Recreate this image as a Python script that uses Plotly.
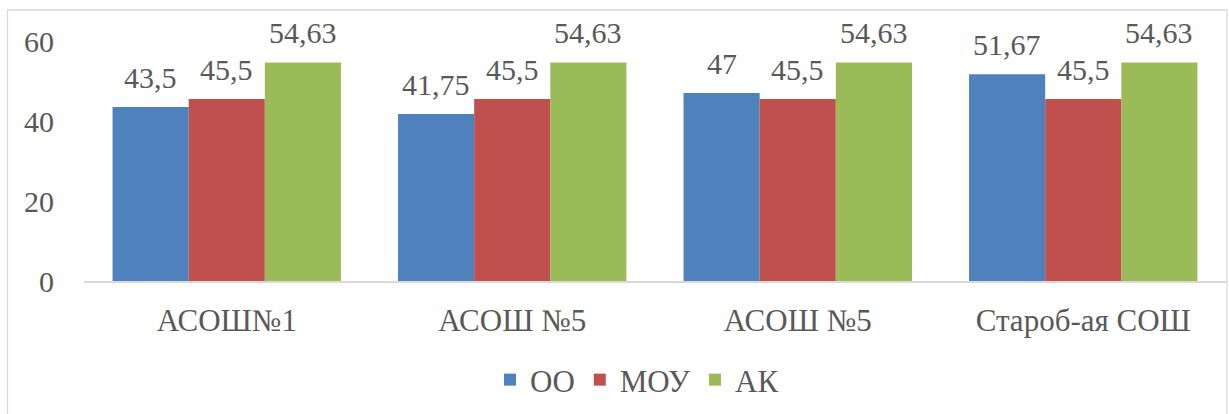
import plotly.graph_objects as go

categories = ["АСОШ№1", "АСОШ №5", "АСОШ №5", "Староб-ая СОШ"]
series_names = ["ОО", "МОУ", "АК"]
oo_values = [43.5, 41.75, 47, 51.67]
mou_values = [45.5, 45.5, 45.5, 45.5]
ak_values = [54.63, 54.63, 54.63, 54.63]
colors = ["#4F81BD", "#C0504D", "#9BBB59"]
y_ticks = [0, 20, 40, 60]

FONT = "Times New Roman, Liberation Serif, serif"
TXT = "#595959"

all_values = [oo_values, mou_values, ak_values]
xpos = list(range(len(categories)))

def fmt(v):
    return f"{v:g}".replace(".", ",")

fig = go.Figure()
for name, vals, col in zip(series_names, all_values, colors):
    fig.add_trace(go.Bar(
        x=xpos, y=vals, name=name,
        marker=dict(color=col, line=dict(width=0)),
        hoverinfo="skip",
    ))

bargap = 0.2
n = len(series_names)
bw = (1 - bargap) / n
annotations = []
for k, vals in enumerate(all_values):
    off = (k - (n - 1) / 2) * bw
    for i, v in enumerate(vals):
        annotations.append(dict(
            x=xpos[i] + off, y=v, xref="x", yref="y",
            text=fmt(v), showarrow=False, yanchor="bottom",
            yshift=11, font=dict(family=FONT, size=30, color=TXT),
        ))

L, R, T, B = 84, 3, 41, 133
W, H = 1229, 414
pw = W - L - R
ph = H - T - B
def px_x(x):
    return (x - L) / pw
def px_y(y):
    return (H - B - y) / ph

fig.update_layout(
    width=W, height=H,
    margin=dict(l=L, r=R, t=T, b=B, autoexpand=False),
    paper_bgcolor="white", plot_bgcolor="white",
    barmode="group", bargap=bargap, bargroupgap=0,
    font=dict(family=FONT, size=30, color=TXT),
    annotations=annotations,
    showlegend=True,
    legend=dict(orientation="h", x=px_x(637), xanchor="center", y=px_y(380), yanchor="middle",
                font=dict(family=FONT, size=31, color=TXT), itemwidth=30,
                traceorder="normal"),
    shapes=[dict(type="rect", xref="paper", yref="paper",
                 x0=px_x(7.5), x1=px_x(1227), y0=px_y(430), y1=px_y(10),
                 line=dict(color="#D9D9D9", width=1.3), fillcolor="rgba(0,0,0,0)", layer="below")],
)
fig.update_xaxes(
    range=[-0.5, len(categories) - 0.5],
    tickvals=xpos, ticktext=categories,
    showline=True, linecolor="#D9D9D9", linewidth=1.5,
    showgrid=False, zeroline=False,
    ticks="outside", ticklen=11, tickcolor="rgba(0,0,0,0)",
    tickfont=dict(family=FONT, size=31, color=TXT),
)
fig.update_yaxes(
    range=[0, 60], tickvals=y_ticks,
    showgrid=False, zeroline=False, showline=False,
    ticks="outside", ticklen=23, tickcolor="rgba(0,0,0,0)",
    tickfont=dict(family=FONT, size=30, color=TXT),
)
fig.write_html("out.html", config={"displayModeBar": False},
               post_script="document.body.style.margin='0';")
